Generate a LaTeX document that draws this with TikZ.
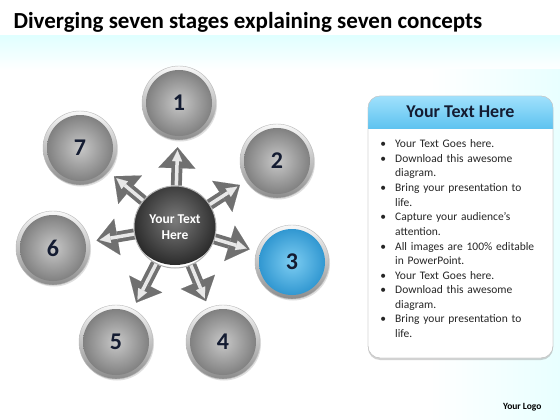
\documentclass[tikz,border=0pt]{standalone}
\usepackage{fontspec}
\setmainfont{Carlito}
\usepackage{enumitem}
\usetikzlibrary{arrows.meta,shadows}

\definecolor{ringlight}{RGB}{248,248,248}
\definecolor{ringdark}{RGB}{140,140,140}
\definecolor{ballgray}{RGB}{200,200,200}
\definecolor{balldark}{RGB}{120,120,120}
\definecolor{balllightblue}{RGB}{125,205,242}
\definecolor{balldarkblue}{RGB}{40,145,205}
\definecolor{headblue}{RGB}{95,195,240}
\definecolor{headtop}{RGB}{160,225,252}
\definecolor{navy}{RGB}{20,28,50}
\definecolor{arrowdark}{RGB}{112,112,112}
\definecolor{arrowlight}{RGB}{232,232,232}

\begin{document}
\begin{tikzpicture}[x=1pt,y=-1pt]
    \useasboundingbox (0,0) rectangle (560,420);
    \fill[white] (0,0) rectangle (560,420);
    \shade[top color=cyan!12, bottom color=white] (0,36) rectangle (560,70);
    \shade[left color=white, right color=cyan!9] (430,70) rectangle (560,420);
    \tikzset{StageStyle/.style 2 args = {%
        shape= circle,
        minimum size = 74pt, inner sep=0pt,
        top color= ringlight, bottom color= ringdark,
        draw= gray!55, line width=0.4pt,
        drop shadow={opacity=0.25,shadow xshift=1pt,shadow yshift=-1.5pt},
        path picture={\shade[inner color=#1,outer color=#2]
            (path picture bounding box.center) circle (33pt);},
        font= \fontsize{24}{24}\selectfont\bfseries, text= navy}}
    \tikzset{HubStyle/.style = {%
        shape= circle,
        minimum size = 82pt,
        draw= gray!60, line width=1pt,
        path picture={\shade[inner color=black!52,outer color=black!85]
            ([yshift=8pt]path picture bounding box.center) circle (46pt);},
        align= center,
        font= \fontsize{13.5}{16}\selectfont\bfseries, text= white}}
    \tikzset{ArrowOuter/.style = {line width=11pt, draw=arrowdark, shorten >=7pt,
        -{Triangle[width=37pt,length=21pt,line width=0.1pt]}}}
    \tikzset{ArrowInner/.style = {line width=3.5pt, draw=arrowlight, shorten >=10pt,
        -{Triangle[width=10pt,length=11pt,line width=0.1pt]}}}
    % title
    \node[anchor=west, font=\fontsize{23}{27}\selectfont\bfseries] (title) at (10,22)
        {Diverging seven stages explaining seven concepts};
    % stages
    \node[StageStyle={ballgray}{balldark}] (c1) at (179,103) {1};
    \node[StageStyle={ballgray}{balldark}] (c2) at (277,161) {2};
    \node[StageStyle={balllightblue}{balldarkblue}] (c3) at (292,262) {3};
    \node[StageStyle={ballgray}{balldark}] (c4) at (223,342) {4};
    \node[StageStyle={ballgray}{balldark}] (c5) at (116,342) {5};
    \node[StageStyle={ballgray}{balldark}] (c6) at (53,248) {6};
    \node[StageStyle={ballgray}{balldark}] (c7) at (80,148) {7};
    \node[HubStyle] (hub) at (175,227) {Your Text\\Here};
    \foreach \s in {1,...,7}{
        \draw[ArrowOuter] (hub) -- (c\s);
        \draw[ArrowInner] (hub) -- (c\s);
    }
    % text panel
    \node[draw=gray!45, fill=white, rounded corners=12pt, minimum width=185pt,
        minimum height=262pt,
        drop shadow={opacity=0.35,shadow xshift=0pt,shadow yshift=-2pt}] (panel) at (460.5,227) {};
    \begin{scope}
        \clip[rounded corners=12pt] (368,96) rectangle (553,358);
        \shade[top color=headtop, bottom color=headblue] (368,96) rectangle (553,128);
    \end{scope}
    \draw[gray!45, rounded corners=12pt] (368,96) rectangle (553,358);
    \node[font=\fontsize{18}{20}\selectfont\bfseries, text=navy] (head) at (460.5,112) {Your Text Here};
    \node[anchor=north west, text width=175pt, inner sep=0pt,
        font=\fontsize{11.5}{14.6}\selectfont, text=black!85] (list) at (375,133) {%
        \begin{itemize}[leftmargin=20pt,labelsep=9pt,itemsep=0pt,topsep=0pt,
            parsep=0pt,partopsep=0pt,label=\textbullet]
        \item Your Text Goes here.
        \item Download this awesome\newline diagram.
        \item Bring your presentation to\newline life.
        \item Capture your audience’s\newline attention.
        \item All images are 100\% editable\newline in PowerPoint.
        \item Your Text Goes here.
        \item Download this awesome\newline diagram.
        \item Bring your presentation to\newline life.
        \end{itemize}};
    \node[anchor=east, font=\fontsize{9.5}{11}\selectfont\bfseries] (logo) at (545,407) {Your Logo};
\end{tikzpicture}
\end{document}
